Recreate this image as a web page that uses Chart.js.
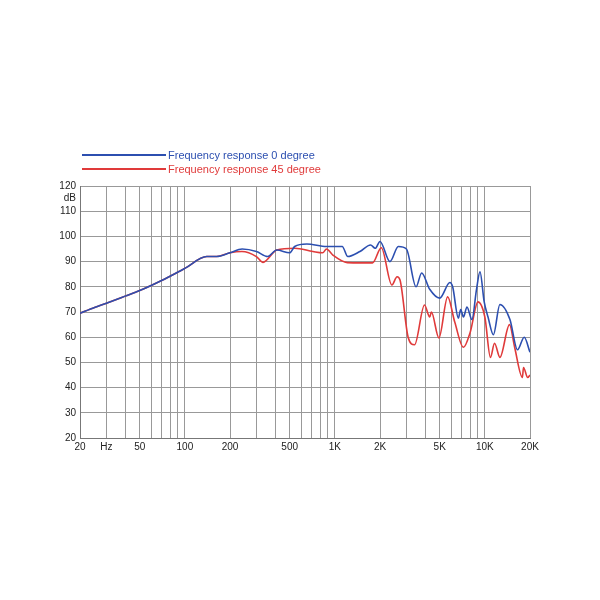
<!DOCTYPE html>
<html>
<head>
<meta charset="utf-8">
<script src="https://cdn.jsdelivr.net/npm/chart.js@4"></script>
<style>
  body { margin: 0; background: #fff; font-family: "Liberation Sans", Arial, sans-serif; }
  #wrap { position: relative; width: 600px; height: 600px; }
  .leg { position: absolute; left: 82px; font-size: 11px; display: flex; align-items: center; }
  .leg span.ln { display: inline-block; width: 84px; height: 2px; margin-right: 2px; }
</style>
</head>
<body>
<div id="wrap">
  <canvas id="c" width="600" height="600"></canvas>
  <div class="leg" style="top:149px;color:#2c4fb0"><span class="ln" style="background:#2c4fb0"></span>Frequency response 0 degree</div>
  <div class="leg" style="top:163px;color:#e03a3a"><span class="ln" style="background:#e03a3a"></span>Frequency response 45 degree</div>
</div>
<script>
const gridFreqs = [20,30,40,50,60,70,80,90,100,200,300,400,500,600,700,800,900,1000,2000,3000,4000,5000,6000,7000,8000,9000,10000,20000];
const freqLabels = {20:"20",30:"Hz",50:"50",100:"100",200:"200",500:"500",1000:"1K",2000:"2K",5000:"5K",10000:"10K",20000:"20K"};

const freq0 = [20,25,30,40,50,70,93,100,140,163,200,241,300,356,410,500,540,650,880,1000,1120,1220,1470,1730,1860,2000,2330,2650,3000,3480,3790,4290,5000,5850,6100,6660,6900,7200,7600,8200,8800,9280,9900,10500,11400,12600,14700,16500,18300,20000];
const resp0 = [69.5,71.8,73.5,76.3,78.5,82.5,86.3,87.3,92,92,93.5,95,94,92,94.6,93.5,96,97,96,96,96,92,94,96.6,95.3,98,90,96,95,80,85.5,79,75.5,81.7,80,67.6,71,68,72,67,79,86,74,68,61,73,67,55,60,54];

const freq45 = [20,25,30,40,50,70,93,100,140,163,200,240,300,332,410,540,715,830,880,970,1210,1500,1785,2040,2400,2600,2720,3080,3400,3960,4290,4400,4940,5650,6300,7200,7990,9000,10000,10900,11600,12600,14600,15800,17800,18100,19300,20000];
const resp45 = [69.5,71.8,73.5,76.3,78.5,82.5,86.3,87.3,92,92,93.5,94,92,89.7,94.6,95.3,94,93.5,95,92.6,89.6,89.5,89.5,95.5,80.7,84,82.7,60,57,72.8,68,70,59.7,76,66,56,62,74,68,52,57.6,52,65,56,44,48,44,45];

const toPts = (f, v) => f.map((x, i) => ({x: x, y: v[i]}));

new Chart(document.getElementById("c"), {
  type: "line",
  data: {
    datasets: [
      { data: toPts(freq0, resp0), borderColor: "#2c4fb0", borderWidth: 1.6, pointRadius: 0, cubicInterpolationMode: "monotone" },
      { data: toPts(freq45, resp45), borderColor: "#e03a3a", borderWidth: 1.6, pointRadius: 0, cubicInterpolationMode: "monotone" }
    ]
  },
  options: {
    responsive: false,
    animation: false,
    layout: { padding: { top: 186, right: 70, bottom: 142, left: 0 } },
    plugins: { legend: { display: false }, tooltip: { enabled: false } },
    scales: {
      x: {
        type: "logarithmic", min: 20, max: 20000,
        afterBuildTicks: s => { s.ticks = gridFreqs.map(v => ({value: v})); },
        afterFit: s => { s.height = 20; },
        ticks: { autoSkip: false, maxRotation: 0, color: "#222", font: { size: 10, family: "Liberation Sans" },
                 callback: v => freqLabels[v] || "" },
        grid: { color: "#999", drawTicks: false },
        border: { color: "#777" }
      },
      y: {
        min: 20, max: 120,
        afterBuildTicks: s => { const t = []; for (let v = 20; v <= 120; v += 5) t.push({value: v}); s.ticks = t; },
        afterFit: s => { s.width = 80; },
        ticks: { autoSkip: false, color: "#222", padding: 4, font: { size: 10, family: "Liberation Sans" },
                 callback: v => v % 10 === 0 ? String(v) : (v === 115 ? "dB" : "") },
        grid: { color: c => (c.tick && c.tick.value % 10 !== 0) ? "rgba(0,0,0,0)" : "#999", drawTicks: false },
        border: { color: "#777" }
      }
    }
  }
});
</script>
</body>
</html>
